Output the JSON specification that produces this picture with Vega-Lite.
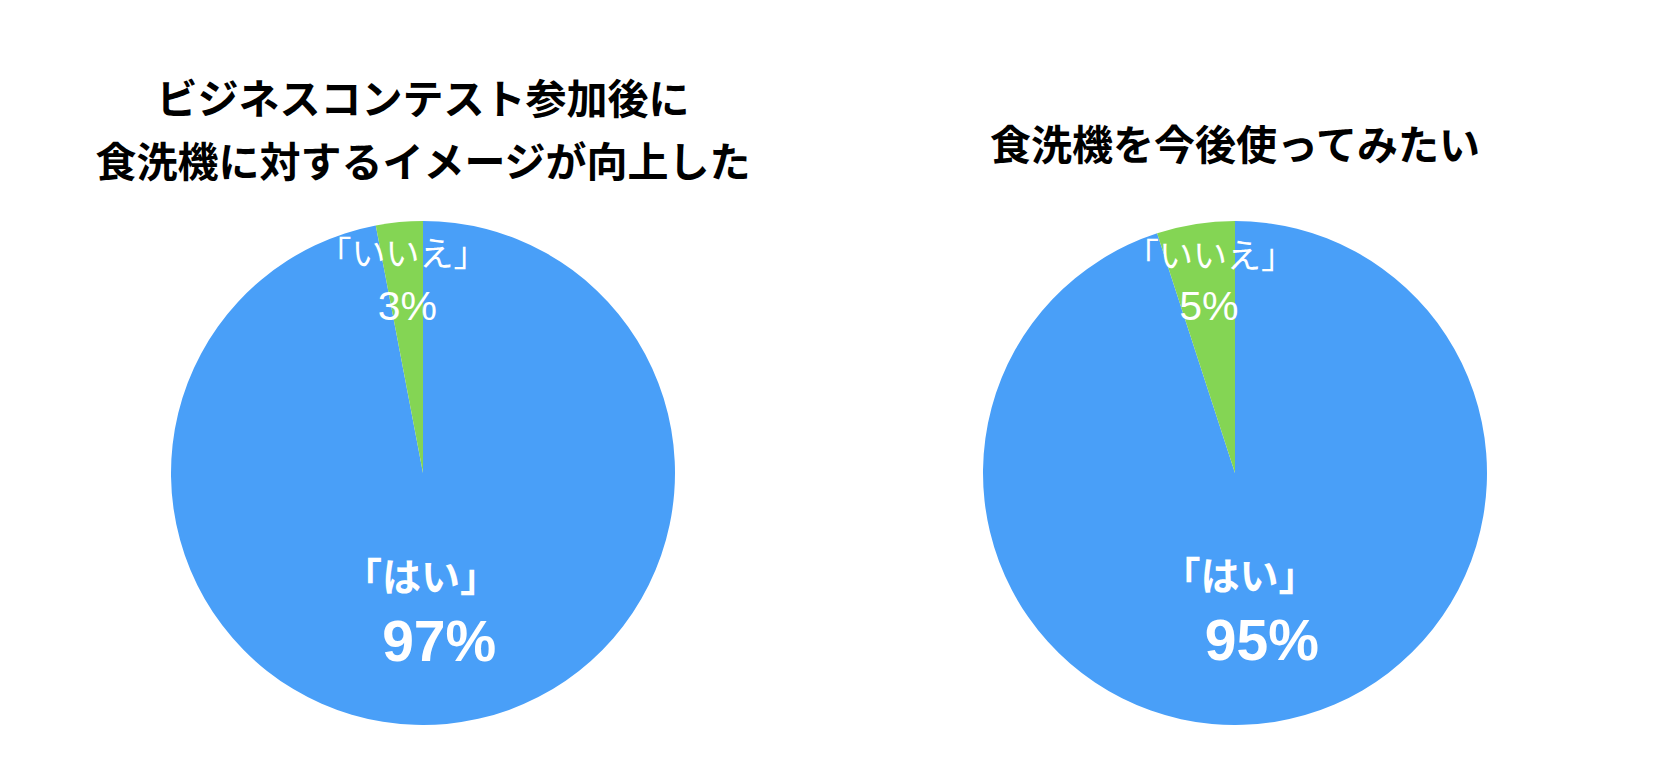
{
  "$schema": "https://vega.github.io/schema/vega-lite/v6.json",
  "background": "white",
  "padding": {"left": 17, "top": 81, "right": 0, "bottom": 0},
  "spacing": 0,
  "config": {
    "view": {"stroke": null},
    "title": {"font": "Noto Sans CJK JP", "fontSize": 41, "fontWeight": "bold", "color": "#000000", "anchor": "middle", "lineHeight": 63}
  },
  "hconcat": [
    {
      "width": 812,
      "height": 504,
      "title": {"text": ["ビジネスコンテスト参加後に", "食洗機に対するイメージが向上した"], "offset": 35},
      "data": {"values": [
        {"answer": "はい", "value": 97, "label": "「はい」", "pct": "97%", "order": 1},
        {"answer": "いいえ", "value": 3, "label": "「いいえ」", "pct": "3%", "order": 2}
      ]},
      "encoding": {
        "theta": {"field": "value", "type": "quantitative", "stack": true},
        "order": {"field": "order", "type": "quantitative"}
      },
      "layer": [
        {
          "mark": {"type": "arc", "radius": 252},
          "encoding": {
            "color": {"field": "answer", "type": "nominal", "scale": {"domain": ["はい", "いいえ"], "range": ["#499FF8", "#84D554"]}, "legend": null}
          }
        },
        {
          "mark": {"type": "text", "radius": 106, "dx": -12, "font": "Noto Sans CJK JP", "fontSize": 39, "fontWeight": "bold", "color": "white"},
          "encoding": {"text": {"condition": {"test": "datum.answer === 'はい'", "field": "label"}, "value": ""}}
        },
        {
          "mark": {"type": "text", "radius": 172, "font": "Liberation Sans", "fontSize": 57, "fontWeight": "bold", "color": "white"},
          "encoding": {"text": {"condition": {"test": "datum.answer === 'はい'", "field": "pct"}, "value": ""}}
        },
        {
          "mark": {"type": "text", "radius": 218, "font": "Noto Sans CJK JP", "fontSize": 34, "color": "white"},
          "encoding": {"text": {"condition": {"test": "datum.answer === 'いいえ'", "field": "label"}, "value": ""}}
        },
        {
          "mark": {"type": "text", "radius": 166, "font": "Liberation Sans", "fontSize": 41, "color": "white"},
          "encoding": {"text": {"condition": {"test": "datum.answer === 'いいえ'", "field": "pct"}, "value": ""}}
        }
      ]
    },
    {
      "width": 812,
      "height": 504,
      "title": {"text": "食洗機を今後使ってみたい", "offset": 52},
      "data": {"values": [
        {"answer": "はい", "value": 95, "label": "「はい」", "pct": "95%", "order": 1},
        {"answer": "いいえ", "value": 5, "label": "「いいえ」", "pct": "5%", "order": 2}
      ]},
      "encoding": {
        "theta": {"field": "value", "type": "quantitative", "stack": true},
        "order": {"field": "order", "type": "quantitative"}
      },
      "layer": [
        {
          "mark": {"type": "arc", "radius": 252},
          "encoding": {
            "color": {"field": "answer", "type": "nominal", "scale": {"domain": ["はい", "いいえ"], "range": ["#499FF8", "#84D554"]}, "legend": null}
          }
        },
        {
          "mark": {"type": "text", "radius": 106, "dx": -12, "font": "Noto Sans CJK JP", "fontSize": 39, "fontWeight": "bold", "color": "white"},
          "encoding": {"text": {"condition": {"test": "datum.answer === 'はい'", "field": "label"}, "value": ""}}
        },
        {
          "mark": {"type": "text", "radius": 172, "font": "Liberation Sans", "fontSize": 57, "fontWeight": "bold", "color": "white"},
          "encoding": {"text": {"condition": {"test": "datum.answer === 'はい'", "field": "pct"}, "value": ""}}
        },
        {
          "mark": {"type": "text", "radius": 218, "dx": 9, "font": "Noto Sans CJK JP", "fontSize": 34, "color": "white"},
          "encoding": {"text": {"condition": {"test": "datum.answer === 'いいえ'", "field": "label"}, "value": ""}}
        },
        {
          "mark": {"type": "text", "radius": 167, "font": "Liberation Sans", "fontSize": 41, "color": "white"},
          "encoding": {"text": {"condition": {"test": "datum.answer === 'いいえ'", "field": "pct"}, "value": ""}}
        }
      ]
    }
  ]
}
